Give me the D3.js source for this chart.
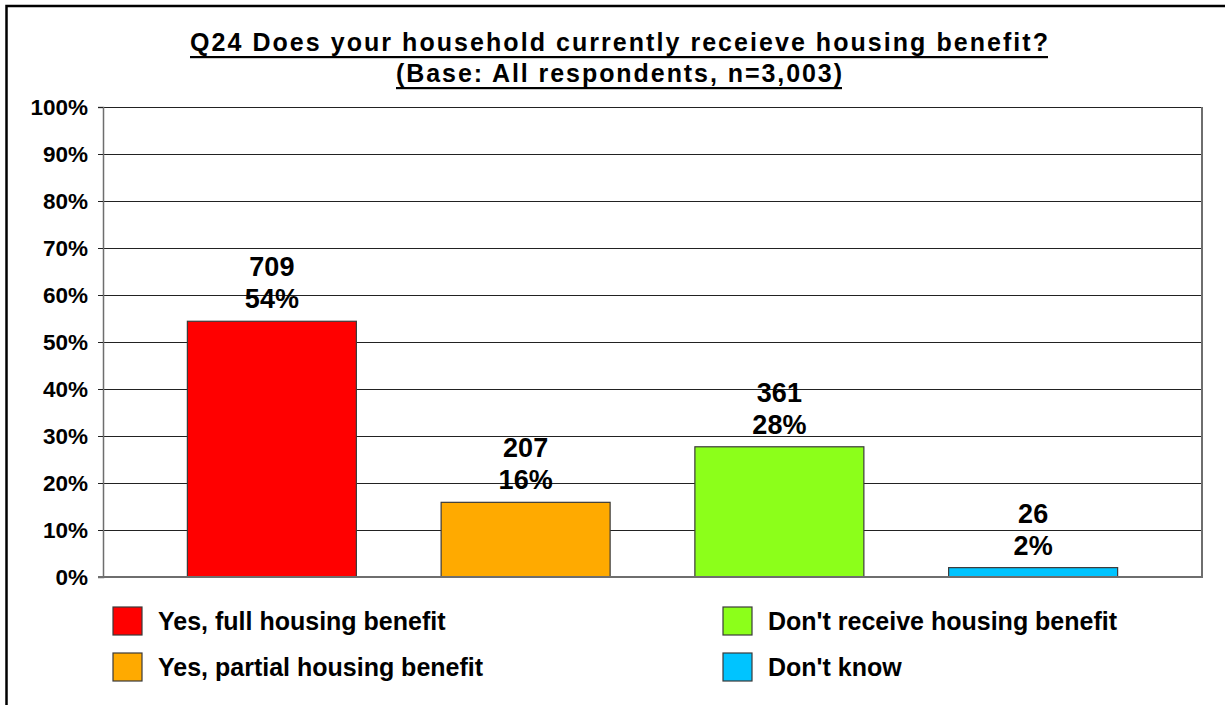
<!DOCTYPE html>
<html>
<head>
<meta charset="utf-8">
<script src="https://cdn.jsdelivr.net/npm/d3@7"></script>
<style>
  html, body { margin: 0; padding: 0; background: #fff; }
  svg { display: block; }
  text { font-family: "Liberation Sans", Arial, sans-serif; font-weight: bold; fill: #000; }
</style>
</head>
<body>
<svg id="chart" width="1225" height="705"></svg>
<script>
// Survey answers and respondent counts
const categories = [
  "Yes, full housing benefit",
  "Yes, partial housing benefit",
  "Don't receive housing benefit",
  "Don't know"
];
const counts = [709, 207, 361, 26];
const colors = ["#FF0000", "#FFAA00", "#8CFF1A", "#00C4FF"];
const yTicks = [0, 10, 20, 30, 40, 50, 60, 70, 80, 90, 100];
const yTickLabels = ["0%", "10%", "20%", "30%", "40%", "50%", "60%", "70%", "80%", "90%", "100%"];
const titleLines = [
  "Q24 Does your household currently receieve housing benefit?",
  "(Base: All respondents, n=3,003)"
];

const total = d3.sum(counts);
const percents = counts.map(c => c / total * 100);

const svg = d3.select("#chart");

// Outer frame
svg.append("rect")
  .attr("x", 6.5).attr("y", 6)
  .attr("width", 1240).attr("height", 720)
  .attr("fill", "#fff").attr("stroke", "#000").attr("stroke-width", 2.5);

// Plot area
const plot = { left: 103, right: 1202, top: 107, bottom: 577 };

const y = d3.scaleLinear().domain([0, 100]).range([plot.bottom, plot.top]);
const x = d3.scaleBand()
  .domain(categories)
  .range([145, 1160])
  .paddingInner(0.334)
  .paddingOuter(0.167);

// Horizontal gridlines
svg.append("g")
  .selectAll("line")
  .data(yTicks.filter(t => t > 0))
  .join("line")
  .attr("x1", plot.left).attr("x2", plot.right)
  .attr("y1", d => Math.round(y(d)) + 0.5).attr("y2", d => Math.round(y(d)) + 0.5)
  .attr("stroke", "#222").attr("stroke-width", 1);

// Right edge of the plot area
svg.append("line")
  .attr("x1", plot.right).attr("x2", plot.right)
  .attr("y1", plot.top).attr("y2", plot.bottom)
  .attr("stroke", "#6e6e6e").attr("stroke-width", 2);

// Y axis
const yAxis = d3.axisLeft(y)
  .tickValues(yTicks)
  .tickFormat((d, i) => yTickLabels[i])
  .tickSize(5)
  .tickPadding(10);
const gy = svg.append("g")
  .attr("transform", `translate(${plot.left},0)`)
  .call(yAxis);
gy.select(".domain").attr("stroke", "#6e6e6e").attr("stroke-width", 1.5);
gy.selectAll(".tick line").attr("stroke", "#222");
gy.selectAll(".tick text")
  .attr("font-size", 22.5)
  .attr("font-family", "'Liberation Sans', Arial, sans-serif")
  .attr("font-weight", "bold")
  .attr("fill", "#000");

// Bars
svg.append("g")
  .selectAll("rect")
  .data(categories)
  .join("rect")
  .attr("x", d => x(d))
  .attr("width", x.bandwidth())
  .attr("y", (d, i) => y(percents[i]))
  .attr("height", (d, i) => y(0) - y(percents[i]))
  .attr("fill", (d, i) => colors[i])
  .attr("stroke", "#3a3a3a")
  .attr("stroke-width", 1.2);

// X axis line
svg.append("line")
  .attr("x1", plot.left - 5).attr("x2", plot.right + 1)
  .attr("y1", plot.bottom).attr("y2", plot.bottom)
  .attr("stroke", "#6e6e6e").attr("stroke-width", 2);

// Value labels: count above percentage
const labels = svg.append("g")
  .selectAll("g")
  .data(categories)
  .join("g")
  .attr("transform", (d, i) => `translate(${x(d) + x.bandwidth() / 2},${y(percents[i]) - 13})`);
labels.append("text")
  .attr("text-anchor", "middle")
  .attr("y", -32)
  .attr("font-size", 27)
  .text((d, i) => counts[i]);
labels.append("text")
  .attr("text-anchor", "middle")
  .attr("y", 0)
  .attr("font-size", 27)
  .text((d, i) => Math.round(percents[i]) + "%");

// Title with underlines
const titleCenter = 619;
const titleSpecs = [
  { baseline: 51, width: 858, under: 57 },
  { baseline: 82, width: 446, under: 88 }
];
titleLines.forEach((line, i) => {
  const spec = titleSpecs[i];
  svg.append("text")
    .attr("x", titleCenter).attr("y", spec.baseline)
    .attr("text-anchor", "middle")
    .attr("font-size", 25)
    .attr("textLength", spec.width)
    .attr("lengthAdjust", "spacing")
    .text(line);
  svg.append("rect")
    .attr("x", titleCenter - spec.width / 2)
    .attr("y", spec.under - 1)
    .attr("width", spec.width)
    .attr("height", 2.2)
    .attr("fill", "#000");
});

// Legend: two columns, two rows
const legendPos = [
  { x: 113, y: 607 },
  { x: 113, y: 653 },
  { x: 723, y: 607 },
  { x: 723, y: 653 }
];
const legend = svg.append("g")
  .selectAll("g")
  .data(categories)
  .join("g")
  .attr("transform", (d, i) => `translate(${legendPos[i].x},${legendPos[i].y})`);
legend.append("rect")
  .attr("width", 29).attr("height", 28)
  .attr("fill", (d, i) => colors[i])
  .attr("stroke", "#3a3a3a").attr("stroke-width", 1.2);
legend.append("text")
  .attr("x", 45).attr("y", 23)
  .attr("font-size", 25)
  .text(d => d);
</script>
</body>
</html>
